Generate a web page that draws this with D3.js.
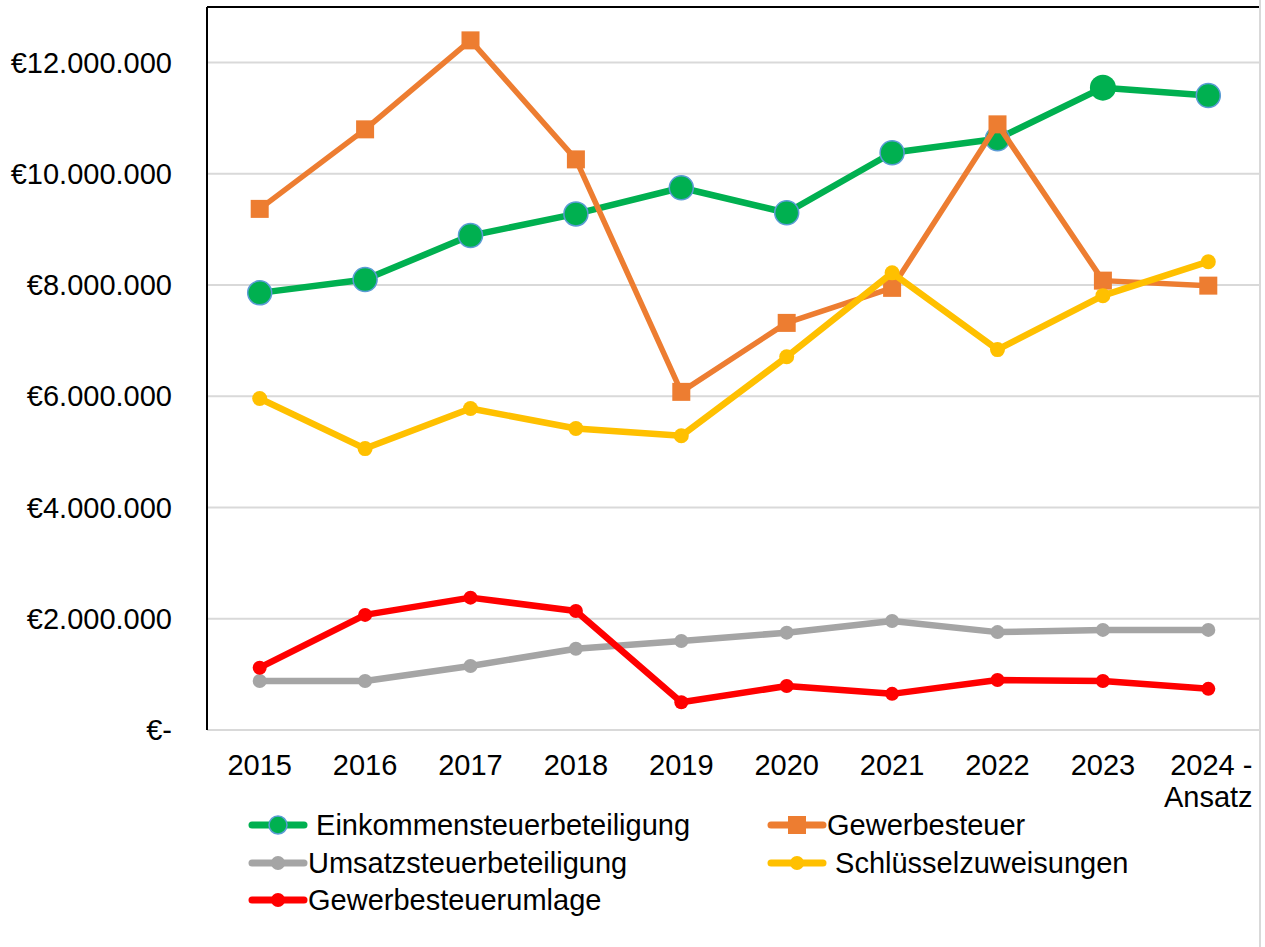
<!DOCTYPE html>
<html>
  <head>
    <meta http-equiv="Content-Type" content="text/html;charset=utf-8"/>
    <style type="text/css">
body {
  margin: 0;
  background: #fff;
}
svg {
  font-family: "Liberation Sans", Arial, sans-serif;
  font-size: 29px;
}
.grid line {
  stroke: #d9d9d9;
  stroke-width: 2px;
}
.series path {
  fill: none;
  stroke-linejoin: round;
}
.legend text {
  white-space: pre;
  font-size: 29px;
}
    </style>
  </head>
  <body>
    <svg></svg>
    <script type="text/javascript" src="https://cdn.jsdelivr.net/npm/d3@7"></script>
    <script type="text/javascript">

// data
var years = ["2015", "2016", "2017", "2018", "2019", "2020", "2021", "2022", "2023", "2024 - Ansatz"];
var einkommensteuer = [7860000, 8100000, 8890000, 9280000, 9750000, 9300000, 10380000, 10630000, 11550000, 11410000];
var gewerbesteuer = [9370000, 10800000, 12400000, 10260000, 6080000, 7320000, 7950000, 10890000, 8080000, 7990000];
var umsatzsteuer = [880000, 880000, 1150000, 1460000, 1600000, 1750000, 1960000, 1760000, 1800000, 1800000];
var schluessel = [5960000, 5060000, 5780000, 5420000, 5290000, 6710000, 8220000, 6840000, 7810000, 8420000];
var umlage = [1120000, 2070000, 2380000, 2140000, 500000, 790000, 650000, 900000, 880000, 740000];
var yTicks = [0, 2000000, 4000000, 6000000, 8000000, 10000000, 12000000];

var series = [
  {name: " Einkommensteuerbeteiligung", vals: einkommensteuer, color: "#00b050", width: 6.5, shape: "circle", r: 12, outline: "#5b9bd5"},
  {name: "Gewerbesteuer", vals: gewerbesteuer, color: "#ed7d31", width: 5.5, shape: "square", r: 9},
  {name: "Umsatzsteuerbeteiligung", vals: umsatzsteuer, color: "#a5a5a5", width: 6.5, shape: "circle", r: 7},
  {name: " Schlüsselzuweisungen", vals: schluessel, color: "#ffc000", width: 6.5, shape: "circle", r: 7.5},
  {name: "Gewerbesteuerumlage", vals: umlage, color: "#ff0000", width: 6.5, shape: "circle", r: 7}
];

var W = 1265, H = 947;
var mLeft = 207, mRight = 1261, mTop = 7, mBottom = 730;

var svg = d3.select("svg").attr("width", W).attr("height", H);

var x = d3.scalePoint().domain(years).range([mLeft, mRight]).padding(0.5);
var y = d3.scaleLinear().domain([0, 13000000]).range([mBottom, mTop]);

function fmt(v) {
  if (v === 0) return "€-";
  return "€" + d3.format(",")(v).replace(/,/g, ".");
}

// gridlines
svg.append("g").attr("class", "grid")
  .selectAll("line")
  .data(yTicks.filter(d => d > 0))
  .enter().append("line")
    .attr("x1", mLeft).attr("x2", mRight)
    .attr("y1", d => y(d)).attr("y2", d => y(d));

// axis frame
svg.append("line").attr("x1", mLeft).attr("x2", mRight).attr("y1", mBottom).attr("y2", mBottom)
  .attr("stroke", "#d9d9d9").attr("stroke-width", 2);
svg.append("line").attr("x1", mLeft).attr("x2", mLeft).attr("y1", mTop).attr("y2", mBottom)
  .attr("stroke", "#000").attr("stroke-width", 2);
svg.append("line").attr("x1", mLeft).attr("x2", 1259).attr("y1", mTop).attr("y2", mTop)
  .attr("stroke", "#000").attr("stroke-width", 2);
svg.append("line").attr("x1", 1260).attr("x2", 1260).attr("y1", 0).attr("y2", H)
  .attr("stroke", "#d9d9d9").attr("stroke-width", 2);

// y labels
svg.append("g").selectAll("text")
  .data(yTicks)
  .enter().append("text")
    .attr("x", 172)
    .attr("y", d => y(d))
    .attr("dy", "0.35em")
    .attr("text-anchor", "end")
    .text(fmt);

// x labels
var xl = svg.append("g").selectAll("text")
  .data(years)
  .enter().append("text")
    .attr("text-anchor", "middle")
    .attr("x", d => x(d))
    .attr("y", 775);
xl.each(function(d) {
  var parts = d.indexOf(" - ") > 0 ? [d.split(" - ")[0] + " -", d.split(" - ")[1]] : [d];
  var t = d3.select(this);
  parts.forEach(function(p, i) {
    t.append("tspan").attr("x", x(d) + (i === 0 && parts.length > 1 ? 3 : 0)).attr("dy", i === 0 ? 0 : 32).text(p);
  });
});

function drawMarker(g, s, cx, cy, r) {
  if (s.shape === "square") {
    g.append("rect").attr("x", cx - r).attr("y", cy - r).attr("width", 2 * r).attr("height", 2 * r)
      .attr("fill", s.color);
  } else {
    g.append("circle").attr("cx", cx).attr("cy", cy).attr("r", r)
      .attr("fill", s.color)
      .attr("stroke", s.outline || "none")
      .attr("stroke-width", s.outline ? 1.5 : 0);
  }
}

var line = d3.line().x((d, i) => x(years[i])).y(d => y(d));

series.forEach(function(s) {
  var g = svg.append("g").attr("class", "series");
  g.append("path").attr("d", line(s.vals)).attr("stroke", s.color).attr("stroke-width", s.width);
  s.vals.forEach(function(v, i) {
    var hi = (s.outline && i === 8);
    if (hi) {
      g.append("circle").attr("cx", x(years[i])).attr("cy", y(v)).attr("r", s.r + 1).attr("fill", s.color);
    } else {
      drawMarker(g, s, x(years[i]), y(v), s.r);
    }
  });
});

// legend
var legendPos = [[249, 825], [768, 825], [249, 863], [768, 863], [249, 900]];
var legend = svg.append("g").attr("class", "legend");
series.forEach(function(s, i) {
  var p = legendPos[i];
  var g = legend.append("g").attr("transform", "translate(" + p[0] + "," + p[1] + ")");
  g.append("line").attr("x1", 3).attr("x2", 55).attr("y1", 0).attr("y2", 0)
    .attr("stroke", s.color).attr("stroke-width", 7).attr("stroke-linecap", "round");
  drawMarker(g, s, 29, 0, s.shape === "square" ? 9 : (s.outline ? 9 : 7));
  g.append("text").attr("x", 59).attr("y", 0).attr("dy", "0.35em").text(s.name);
});

    </script>
  </body>
</html>
